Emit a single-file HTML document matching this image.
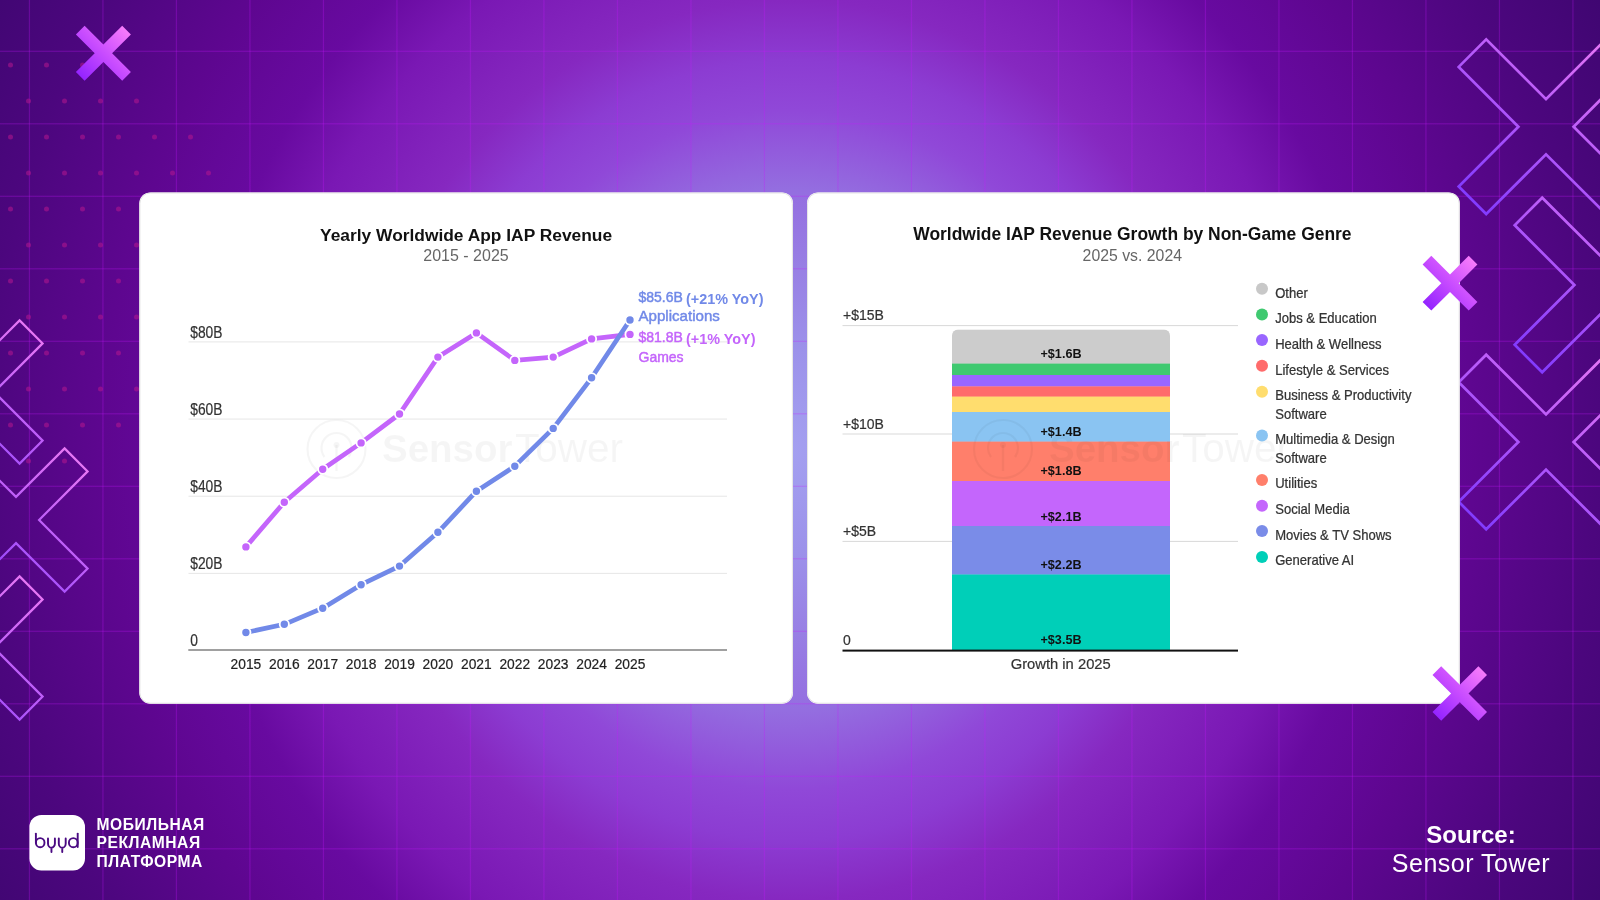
<!DOCTYPE html>
<html><head><meta charset="utf-8"><title>IAP Revenue</title>
<style>
html,body{margin:0;padding:0;width:1600px;height:900px;overflow:hidden;background:#3a0870;}
svg{display:block;font-family:"Liberation Sans", sans-serif;will-change:transform;}
</style></head><body>
<svg width="1600" height="900" viewBox="0 0 1600 900">
<defs>
<radialGradient id="bgg" gradientUnits="userSpaceOnUse" cx="790" cy="450" r="950" gradientTransform="translate(790 450) scale(1 1.0526) translate(-790 -450)">
<stop offset="0" stop-color="#a4a0f0"/>
<stop offset="0.1" stop-color="#9c92ea"/>
<stop offset="0.18" stop-color="#9880e4"/>
<stop offset="0.26" stop-color="#946ee0"/>
<stop offset="0.34" stop-color="#9048d8"/>
<stop offset="0.39" stop-color="#8c3cd2"/>
<stop offset="0.45" stop-color="#8628c0"/>
<stop offset="0.55" stop-color="#7a18b4"/>
<stop offset="0.62" stop-color="#680aa0"/>
<stop offset="0.72" stop-color="#5e0690"/>
<stop offset="0.85" stop-color="#4c067e"/>
<stop offset="1" stop-color="#3c066e"/>
</radialGradient>
<linearGradient id="gridc" x1="0" y1="0" x2="1" y2="0"><stop offset="0" stop-color="#c814ff" stop-opacity="0.26"/><stop offset="1" stop-color="#c814ff" stop-opacity="0.26"/></linearGradient>
<linearGradient id="xg" x1="0" y1="1" x2="1" y2="0"><stop offset="0" stop-color="#7a36ff"/><stop offset="1" stop-color="#f07cf4"/></linearGradient>
<linearGradient id="sx" x1="0" y1="1" x2="1" y2="0"><stop offset="0" stop-color="#8a1cff"/><stop offset="0.5" stop-color="#c84cff"/><stop offset="1" stop-color="#ff84fa"/></linearGradient>
<filter id="cs" x="-5%" y="-5%" width="110%" height="110%"><feDropShadow dx="0" dy="1" stdDeviation="1" flood-color="#000" flood-opacity="0.15"/></filter>
</defs>
<rect width="1600" height="900" fill="url(#bgg)"/>
<rect x="28.84" y="0" width="1.2" height="900" fill="url(#gridc)"/>
<rect x="102.34" y="0" width="1.2" height="900" fill="url(#gridc)"/>
<rect x="175.84" y="0" width="1.2" height="900" fill="url(#gridc)"/>
<rect x="249.34" y="0" width="1.2" height="900" fill="url(#gridc)"/>
<rect x="322.84" y="0" width="1.2" height="900" fill="url(#gridc)"/>
<rect x="396.34" y="0" width="1.2" height="900" fill="url(#gridc)"/>
<rect x="469.84" y="0" width="1.2" height="900" fill="url(#gridc)"/>
<rect x="543.34" y="0" width="1.2" height="900" fill="url(#gridc)"/>
<rect x="616.84" y="0" width="1.2" height="900" fill="url(#gridc)"/>
<rect x="690.34" y="0" width="1.2" height="900" fill="url(#gridc)"/>
<rect x="763.84" y="0" width="1.2" height="900" fill="url(#gridc)"/>
<rect x="837.34" y="0" width="1.2" height="900" fill="url(#gridc)"/>
<rect x="910.84" y="0" width="1.2" height="900" fill="url(#gridc)"/>
<rect x="984.34" y="0" width="1.2" height="900" fill="url(#gridc)"/>
<rect x="1057.84" y="0" width="1.2" height="900" fill="url(#gridc)"/>
<rect x="1131.34" y="0" width="1.2" height="900" fill="url(#gridc)"/>
<rect x="1204.84" y="0" width="1.2" height="900" fill="url(#gridc)"/>
<rect x="1278.34" y="0" width="1.2" height="900" fill="url(#gridc)"/>
<rect x="1351.84" y="0" width="1.2" height="900" fill="url(#gridc)"/>
<rect x="1425.34" y="0" width="1.2" height="900" fill="url(#gridc)"/>
<rect x="1498.84" y="0" width="1.2" height="900" fill="url(#gridc)"/>
<rect x="1572.34" y="0" width="1.2" height="900" fill="url(#gridc)"/>
<rect x="0" y="50.70" width="1600" height="1.2" fill="url(#gridc)"/>
<rect x="0" y="123.20" width="1600" height="1.2" fill="url(#gridc)"/>
<rect x="0" y="195.70" width="1600" height="1.2" fill="url(#gridc)"/>
<rect x="0" y="268.20" width="1600" height="1.2" fill="url(#gridc)"/>
<rect x="0" y="340.70" width="1600" height="1.2" fill="url(#gridc)"/>
<rect x="0" y="413.20" width="1600" height="1.2" fill="url(#gridc)"/>
<rect x="0" y="485.70" width="1600" height="1.2" fill="url(#gridc)"/>
<rect x="0" y="558.20" width="1600" height="1.2" fill="url(#gridc)"/>
<rect x="0" y="630.70" width="1600" height="1.2" fill="url(#gridc)"/>
<rect x="0" y="703.20" width="1600" height="1.2" fill="url(#gridc)"/>
<rect x="0" y="775.70" width="1600" height="1.2" fill="url(#gridc)"/>
<rect x="0" y="848.20" width="1600" height="1.2" fill="url(#gridc)"/>
<circle cx="10.5" cy="65" r="2.5" fill="#b4188e" fill-opacity="0.55"/>
<circle cx="46.5" cy="65" r="2.5" fill="#b4188e" fill-opacity="0.55"/>
<circle cx="82.5" cy="65" r="2.5" fill="#b4188e" fill-opacity="0.55"/>
<circle cx="28.5" cy="101" r="2.5" fill="#b4188e" fill-opacity="0.55"/>
<circle cx="64.5" cy="101" r="2.5" fill="#b4188e" fill-opacity="0.55"/>
<circle cx="100.5" cy="101" r="2.5" fill="#b4188e" fill-opacity="0.55"/>
<circle cx="136.5" cy="101" r="2.5" fill="#b4188e" fill-opacity="0.55"/>
<circle cx="10.5" cy="137" r="2.5" fill="#b4188e" fill-opacity="0.55"/>
<circle cx="46.5" cy="137" r="2.5" fill="#b4188e" fill-opacity="0.55"/>
<circle cx="82.5" cy="137" r="2.5" fill="#b4188e" fill-opacity="0.55"/>
<circle cx="118.5" cy="137" r="2.5" fill="#b4188e" fill-opacity="0.55"/>
<circle cx="154.5" cy="137" r="2.5" fill="#b4188e" fill-opacity="0.55"/>
<circle cx="190.5" cy="137" r="2.5" fill="#b4188e" fill-opacity="0.55"/>
<circle cx="28.5" cy="173" r="2.5" fill="#b4188e" fill-opacity="0.55"/>
<circle cx="64.5" cy="173" r="2.5" fill="#b4188e" fill-opacity="0.55"/>
<circle cx="100.5" cy="173" r="2.5" fill="#b4188e" fill-opacity="0.55"/>
<circle cx="136.5" cy="173" r="2.5" fill="#b4188e" fill-opacity="0.55"/>
<circle cx="172.5" cy="173" r="2.5" fill="#b4188e" fill-opacity="0.55"/>
<circle cx="208.5" cy="173" r="2.5" fill="#b4188e" fill-opacity="0.55"/>
<circle cx="10.5" cy="209" r="2.5" fill="#b4188e" fill-opacity="0.55"/>
<circle cx="46.5" cy="209" r="2.5" fill="#b4188e" fill-opacity="0.55"/>
<circle cx="82.5" cy="209" r="2.5" fill="#b4188e" fill-opacity="0.55"/>
<circle cx="118.5" cy="209" r="2.5" fill="#b4188e" fill-opacity="0.55"/>
<circle cx="28.5" cy="245" r="2.5" fill="#b4188e" fill-opacity="0.55"/>
<circle cx="64.5" cy="245" r="2.5" fill="#b4188e" fill-opacity="0.55"/>
<circle cx="100.5" cy="245" r="2.5" fill="#b4188e" fill-opacity="0.55"/>
<circle cx="136.5" cy="245" r="2.5" fill="#b4188e" fill-opacity="0.55"/>
<circle cx="10.5" cy="281" r="2.5" fill="#b4188e" fill-opacity="0.55"/>
<circle cx="46.5" cy="281" r="2.5" fill="#b4188e" fill-opacity="0.55"/>
<circle cx="82.5" cy="281" r="2.5" fill="#b4188e" fill-opacity="0.55"/>
<circle cx="118.5" cy="281" r="2.5" fill="#b4188e" fill-opacity="0.55"/>
<circle cx="28.5" cy="317" r="2.5" fill="#b4188e" fill-opacity="0.55"/>
<circle cx="64.5" cy="317" r="2.5" fill="#b4188e" fill-opacity="0.55"/>
<circle cx="100.5" cy="317" r="2.5" fill="#b4188e" fill-opacity="0.55"/>
<circle cx="136.5" cy="317" r="2.5" fill="#b4188e" fill-opacity="0.55"/>
<circle cx="10.5" cy="353" r="2.5" fill="#b4188e" fill-opacity="0.55"/>
<circle cx="46.5" cy="353" r="2.5" fill="#b4188e" fill-opacity="0.55"/>
<circle cx="82.5" cy="353" r="2.5" fill="#b4188e" fill-opacity="0.55"/>
<circle cx="118.5" cy="353" r="2.5" fill="#b4188e" fill-opacity="0.55"/>
<circle cx="28.5" cy="389" r="2.5" fill="#b4188e" fill-opacity="0.55"/>
<circle cx="64.5" cy="389" r="2.5" fill="#b4188e" fill-opacity="0.55"/>
<circle cx="100.5" cy="389" r="2.5" fill="#b4188e" fill-opacity="0.55"/>
<circle cx="136.5" cy="389" r="2.5" fill="#b4188e" fill-opacity="0.55"/>
<circle cx="10.5" cy="425" r="2.5" fill="#b4188e" fill-opacity="0.55"/>
<circle cx="46.5" cy="425" r="2.5" fill="#b4188e" fill-opacity="0.55"/>
<circle cx="82.5" cy="425" r="2.5" fill="#b4188e" fill-opacity="0.55"/>
<circle cx="118.5" cy="425" r="2.5" fill="#b4188e" fill-opacity="0.55"/>
<circle cx="28.5" cy="461" r="2.5" fill="#b4188e" fill-opacity="0.55"/>
<circle cx="64.5" cy="461" r="2.5" fill="#b4188e" fill-opacity="0.55"/>
<polygon points="1486.2,214.0 1546.0,154.3 1605.8,214.0 1633.3,186.5 1573.6,126.7 1633.3,66.9 1605.8,39.4 1546.0,99.1 1486.2,39.4 1458.7,66.9 1518.4,126.7 1458.7,186.5" fill="none" stroke="url(#xg)" stroke-width="2.7"/>
<polygon points="1542.2,372.3 1602.0,312.6 1661.8,372.3 1689.3,344.8 1629.6,285.0 1689.3,225.2 1661.8,197.7 1602.0,257.4 1542.2,197.7 1514.7,225.2 1574.4,285.0 1514.7,344.8" fill="none" stroke="url(#xg)" stroke-width="2.7"/>
<polygon points="1486.2,529.3 1546.0,469.6 1605.8,529.3 1633.3,501.8 1573.6,442.0 1633.3,382.2 1605.8,354.7 1546.0,414.4 1486.2,354.7 1458.7,382.2 1518.4,442.0 1458.7,501.8" fill="none" stroke="url(#xg)" stroke-width="2.7"/>
<polygon points="-77.6,463.6 -29.0,415.1 19.6,463.6 42.6,440.6 -5.9,392.0 42.6,343.4 19.6,320.4 -29.0,368.9 -77.6,320.4 -100.6,343.4 -52.1,392.0 -100.6,440.6" fill="none" stroke="url(#xg)" stroke-width="2.2"/>
<polygon points="-32.6,591.6 16.0,543.1 64.6,591.6 87.6,568.6 39.1,520.0 87.6,471.4 64.6,448.4 16.0,496.9 -32.6,448.4 -55.6,471.4 -7.1,520.0 -55.6,568.6" fill="none" stroke="url(#xg)" stroke-width="2.2"/>
<polygon points="-77.6,719.6 -29.0,671.1 19.6,719.6 42.6,696.6 -5.9,648.0 42.6,599.4 19.6,576.4 -29.0,624.9 -77.6,576.4 -100.6,599.4 -52.1,648.0 -100.6,696.6" fill="none" stroke="url(#xg)" stroke-width="2.2"/>
<rect x="139.3" y="192.4" width="653.7" height="511.4" rx="11" fill="#fff"/><rect x="139.9" y="193" width="652.5" height="510.2" rx="10.5" fill="none" stroke="#e4e4e4" stroke-width="1"/>
<rect x="807" y="192.4" width="652.8" height="511.4" rx="11" fill="#fff"/><rect x="807.6" y="193" width="651.6" height="510.2" rx="10.5" fill="none" stroke="#e4e4e4" stroke-width="1"/>
<g fill="#000" fill-opacity="0.038" stroke="#000" stroke-opacity="0.038"><circle cx="336.5" cy="449" r="29" fill="none" stroke-width="2.2"/><path d="M324.5,457 A15,15 0 1 1 348.5,457" fill="none" stroke-width="2.2"/><path d="M336.5,445 L336.5,471" fill="none" stroke-width="2.4"/><circle cx="336.5" cy="445" r="3" stroke="none"/><text x="382" y="462" font-size="38.5" font-weight="bold" stroke="none">Sensor</text><text x="515" y="462" font-size="40.5" stroke="none">Tower</text></g>
<text transform="translate(190.20 646.20) scale(0.8753 1)" font-size="15.8" fill="#333" stroke="#333" stroke-width="0.2">0</text>
<rect x="188.5" y="572.85" width="538.5" height="1" fill="#e6e6e6"/>
<text transform="translate(190.20 569.05) scale(0.8753 1)" font-size="15.8" fill="#333" stroke="#333" stroke-width="0.2">$20B</text>
<rect x="188.5" y="495.70" width="538.5" height="1" fill="#e6e6e6"/>
<text transform="translate(190.20 491.90) scale(0.8753 1)" font-size="15.8" fill="#333" stroke="#333" stroke-width="0.2">$40B</text>
<rect x="188.5" y="418.55" width="538.5" height="1" fill="#e6e6e6"/>
<text transform="translate(190.20 414.75) scale(0.8753 1)" font-size="15.8" fill="#333" stroke="#333" stroke-width="0.2">$60B</text>
<rect x="188.5" y="341.40" width="538.5" height="1" fill="#e6e6e6"/>
<text transform="translate(190.20 337.60) scale(0.8753 1)" font-size="15.8" fill="#333" stroke="#333" stroke-width="0.2">$80B</text>
<rect x="188.3" y="649" width="538.7" height="2" fill="#a0a0a0"/>
<text transform="translate(245.90 669.00) scale(0.9718 1)" font-size="14.2" fill="#222" text-anchor="middle" stroke="#222" stroke-width="0.2">2015</text>
<text transform="translate(284.31 669.00) scale(0.9718 1)" font-size="14.2" fill="#222" text-anchor="middle" stroke="#222" stroke-width="0.2">2016</text>
<text transform="translate(322.72 669.00) scale(0.9718 1)" font-size="14.2" fill="#222" text-anchor="middle" stroke="#222" stroke-width="0.2">2017</text>
<text transform="translate(361.13 669.00) scale(0.9718 1)" font-size="14.2" fill="#222" text-anchor="middle" stroke="#222" stroke-width="0.2">2018</text>
<text transform="translate(399.54 669.00) scale(0.9718 1)" font-size="14.2" fill="#222" text-anchor="middle" stroke="#222" stroke-width="0.2">2019</text>
<text transform="translate(437.95 669.00) scale(0.9718 1)" font-size="14.2" fill="#222" text-anchor="middle" stroke="#222" stroke-width="0.2">2020</text>
<text transform="translate(476.36 669.00) scale(0.9718 1)" font-size="14.2" fill="#222" text-anchor="middle" stroke="#222" stroke-width="0.2">2021</text>
<text transform="translate(514.77 669.00) scale(0.9718 1)" font-size="14.2" fill="#222" text-anchor="middle" stroke="#222" stroke-width="0.2">2022</text>
<text transform="translate(553.18 669.00) scale(0.9718 1)" font-size="14.2" fill="#222" text-anchor="middle" stroke="#222" stroke-width="0.2">2023</text>
<text transform="translate(591.59 669.00) scale(0.9718 1)" font-size="14.2" fill="#222" text-anchor="middle" stroke="#222" stroke-width="0.2">2024</text>
<text transform="translate(630.00 669.00) scale(0.9718 1)" font-size="14.2" fill="#222" text-anchor="middle" stroke="#222" stroke-width="0.2">2025</text>
<polyline points="245.9,546.9 284.3,502.2 322.7,469.2 361.1,442.9 399.5,414.0 437.9,357.1 476.4,332.9 514.8,360.4 553.2,357.1 591.6,338.9 630.0,334.4" fill="none" stroke="#c465fb" stroke-width="4.7" stroke-linejoin="round" stroke-linecap="round"/><circle cx="245.9" cy="546.9" r="4.6" fill="#c465fb" stroke="#fff" stroke-width="1.8"/><circle cx="284.3" cy="502.2" r="4.6" fill="#c465fb" stroke="#fff" stroke-width="1.8"/><circle cx="322.7" cy="469.2" r="4.6" fill="#c465fb" stroke="#fff" stroke-width="1.8"/><circle cx="361.1" cy="442.9" r="4.6" fill="#c465fb" stroke="#fff" stroke-width="1.8"/><circle cx="399.5" cy="414.0" r="4.6" fill="#c465fb" stroke="#fff" stroke-width="1.8"/><circle cx="437.9" cy="357.1" r="4.6" fill="#c465fb" stroke="#fff" stroke-width="1.8"/><circle cx="476.4" cy="332.9" r="4.6" fill="#c465fb" stroke="#fff" stroke-width="1.8"/><circle cx="514.8" cy="360.4" r="4.6" fill="#c465fb" stroke="#fff" stroke-width="1.8"/><circle cx="553.2" cy="357.1" r="4.6" fill="#c465fb" stroke="#fff" stroke-width="1.8"/><circle cx="591.6" cy="338.9" r="4.6" fill="#c465fb" stroke="#fff" stroke-width="1.8"/><circle cx="630.0" cy="334.4" r="4.6" fill="#c465fb" stroke="#fff" stroke-width="1.8"/>
<polyline points="245.9,632.5 284.3,624.3 322.7,608.2 361.1,584.7 399.5,566.1 437.9,532.3 476.4,491.2 514.8,466.2 553.2,428.4 591.6,377.8 630.0,320.0" fill="none" stroke="#7189e8" stroke-width="4.7" stroke-linejoin="round" stroke-linecap="round"/><circle cx="245.9" cy="632.5" r="4.6" fill="#7189e8" stroke="#fff" stroke-width="1.8"/><circle cx="284.3" cy="624.3" r="4.6" fill="#7189e8" stroke="#fff" stroke-width="1.8"/><circle cx="322.7" cy="608.2" r="4.6" fill="#7189e8" stroke="#fff" stroke-width="1.8"/><circle cx="361.1" cy="584.7" r="4.6" fill="#7189e8" stroke="#fff" stroke-width="1.8"/><circle cx="399.5" cy="566.1" r="4.6" fill="#7189e8" stroke="#fff" stroke-width="1.8"/><circle cx="437.9" cy="532.3" r="4.6" fill="#7189e8" stroke="#fff" stroke-width="1.8"/><circle cx="476.4" cy="491.2" r="4.6" fill="#7189e8" stroke="#fff" stroke-width="1.8"/><circle cx="514.8" cy="466.2" r="4.6" fill="#7189e8" stroke="#fff" stroke-width="1.8"/><circle cx="553.2" cy="428.4" r="4.6" fill="#7189e8" stroke="#fff" stroke-width="1.8"/><circle cx="591.6" cy="377.8" r="4.6" fill="#7189e8" stroke="#fff" stroke-width="1.8"/><circle cx="630.0" cy="320.0" r="4.6" fill="#7189e8" stroke="#fff" stroke-width="1.8"/>
<text x="638.5" y="301.8" font-size="14" fill="#7189e8" stroke="#7189e8" stroke-width="0.45">$85.6B</text>
<text x="686" y="304" font-size="14.4" font-weight="bold" fill="#7189e8">(+21% YoY)</text>
<text x="638.5" y="321" font-size="15.1" fill="#7189e8" stroke="#7189e8" stroke-width="0.45">Applications</text>
<text x="638.5" y="341.8" font-size="14" fill="#c465fb" stroke="#c465fb" stroke-width="0.45">$81.8B</text>
<text x="686" y="344.4" font-size="14.4" font-weight="bold" fill="#c465fb">(+1% YoY)</text>
<text x="638.5" y="362.2" font-size="14" fill="#c465fb" stroke="#c465fb" stroke-width="0.45">Games</text>
<text x="466.1" y="240.5" font-size="17.36" font-weight="bold" fill="#111" text-anchor="middle">Yearly Worldwide App IAP Revenue</text>
<text transform="translate(466.00 261.30) scale(0.9422 1)" font-size="17" fill="#666" text-anchor="middle">2015 - 2025</text>
<text transform="translate(843.00 645.40) scale(0.9596 1)" font-size="14.6" fill="#333" stroke="#333" stroke-width="0.2">0</text>
<rect x="842.5" y="540.90" width="395.5" height="1" fill="#d9d9d9"/>
<text transform="translate(843.00 536.20) scale(0.9596 1)" font-size="14.6" fill="#333" stroke="#333" stroke-width="0.2">+$5B</text>
<rect x="842.5" y="433.50" width="395.5" height="1" fill="#d9d9d9"/>
<text transform="translate(843.00 428.80) scale(0.9596 1)" font-size="14.6" fill="#333" stroke="#333" stroke-width="0.2">+$10B</text>
<rect x="842.5" y="325.10" width="395.5" height="1" fill="#d9d9d9"/>
<text transform="translate(843.00 320.40) scale(0.9596 1)" font-size="14.6" fill="#333" stroke="#333" stroke-width="0.2">+$15B</text>
<clipPath id="barclip"><rect x="952" y="329.4" width="218" height="330" rx="6" ry="6"/></clipPath>
<g clip-path="url(#barclip)">
<rect x="952" y="329.4" width="218" height="34.5" fill="#cccccc"/>
<rect x="952" y="363.6" width="218" height="11.7" fill="#3fc970"/>
<rect x="952" y="375" width="218" height="11.7" fill="#9966ff"/>
<rect x="952" y="386.4" width="218" height="10.5" fill="#ff6b6b"/>
<rect x="952" y="396.6" width="218" height="15.7" fill="#ffdd6e"/>
<rect x="952" y="412" width="218" height="29.9" fill="#8ac4f2"/>
<rect x="952" y="441.6" width="218" height="39.7" fill="#ff7f6b"/>
<rect x="952" y="481" width="218" height="45.3" fill="#c466fc"/>
<rect x="952" y="526" width="218" height="48.8" fill="#7a8ce8"/>
<rect x="952" y="574.5" width="218" height="76.4" fill="#00cfb8"/>
</g>
<g fill="#000" fill-opacity="0.038" stroke="#000" stroke-opacity="0.038"><circle cx="1003" cy="449" r="29" fill="none" stroke-width="2.2"/><path d="M991,457 A15,15 0 1 1 1015,457" fill="none" stroke-width="2.2"/><path d="M1003,445 L1003,471" fill="none" stroke-width="2.4"/><circle cx="1003" cy="445" r="3" stroke="none"/><text x="1049" y="462" font-size="38.5" font-weight="bold" stroke="none">Sensor</text><text x="1182" y="462" font-size="40.5" stroke="none">Tower</text></g>
<rect x="842.5" y="649.60" width="395.5" height="2" fill="#111"/>
<text x="1061" y="358.4" font-size="12.6" font-weight="bold" fill="#111" text-anchor="middle">+$1.6B</text>
<text x="1061" y="436" font-size="12.6" font-weight="bold" fill="#111" text-anchor="middle">+$1.4B</text>
<text x="1061" y="475" font-size="12.6" font-weight="bold" fill="#111" text-anchor="middle">+$1.8B</text>
<text x="1061" y="520.7" font-size="12.6" font-weight="bold" fill="#111" text-anchor="middle">+$2.1B</text>
<text x="1061" y="568.7" font-size="12.6" font-weight="bold" fill="#111" text-anchor="middle">+$2.2B</text>
<text x="1061" y="644" font-size="12.6" font-weight="bold" fill="#111" text-anchor="middle">+$3.5B</text>
<text transform="translate(1060.70 668.50) scale(0.9850 1)" font-size="15" fill="#333" text-anchor="middle" stroke="#333" stroke-width="0.2">Growth in 2025</text>
<text x="1132.4" y="239.5" font-size="17.45" font-weight="bold" fill="#111" text-anchor="middle">Worldwide IAP Revenue Growth by Non-Game Genre</text>
<text transform="translate(1132.30 260.50) scale(0.9316 1)" font-size="17" fill="#666" text-anchor="middle">2025 vs. 2024</text>
<circle cx="1262" cy="288.8" r="6" fill="#c8c8c8"/>
<text transform="translate(1275.20 297.50) scale(0.9325 1)" font-size="14" fill="#333" stroke="#333" stroke-width="0.25">Other</text>
<circle cx="1262" cy="314.5" r="6" fill="#3fc970"/>
<text transform="translate(1275.20 323.30) scale(0.9325 1)" font-size="14" fill="#333" stroke="#333" stroke-width="0.25">Jobs &amp; Education</text>
<circle cx="1262" cy="340" r="6" fill="#9966ff"/>
<text transform="translate(1275.20 349.00) scale(0.9325 1)" font-size="14" fill="#333" stroke="#333" stroke-width="0.25">Health &amp; Wellness</text>
<circle cx="1262" cy="365.8" r="6" fill="#ff6b6b"/>
<text transform="translate(1275.20 374.70) scale(0.9325 1)" font-size="14" fill="#333" stroke="#333" stroke-width="0.25">Lifestyle &amp; Services</text>
<circle cx="1262" cy="391.7" r="6" fill="#ffdd6e"/>
<text transform="translate(1275.20 400.30) scale(0.9325 1)" font-size="14" fill="#333" stroke="#333" stroke-width="0.25">Business &amp; Productivity</text>
<text transform="translate(1275.20 418.70) scale(0.9325 1)" font-size="14" fill="#333" stroke="#333" stroke-width="0.25">Software</text>
<circle cx="1262" cy="435.6" r="6" fill="#8ac4f2"/>
<text transform="translate(1275.20 444.00) scale(0.9325 1)" font-size="14" fill="#333" stroke="#333" stroke-width="0.25">Multimedia &amp; Design</text>
<text transform="translate(1275.20 462.70) scale(0.9325 1)" font-size="14" fill="#333" stroke="#333" stroke-width="0.25">Software</text>
<circle cx="1262" cy="480" r="6" fill="#ff7f6b"/>
<text transform="translate(1275.20 488.40) scale(0.9325 1)" font-size="14" fill="#333" stroke="#333" stroke-width="0.25">Utilities</text>
<circle cx="1262" cy="505.7" r="6" fill="#c466fc"/>
<text transform="translate(1275.20 513.90) scale(0.9325 1)" font-size="14" fill="#333" stroke="#333" stroke-width="0.25">Social Media</text>
<circle cx="1262" cy="531.1" r="6" fill="#7a8ce8"/>
<text transform="translate(1275.20 539.50) scale(0.9325 1)" font-size="14" fill="#333" stroke="#333" stroke-width="0.25">Movies &amp; TV Shows</text>
<circle cx="1262" cy="556.9" r="6" fill="#00cfb8"/>
<text transform="translate(1275.20 564.90) scale(0.9325 1)" font-size="14" fill="#333" stroke="#333" stroke-width="0.25">Generative AI</text>
<polygon points="84.6,80.8 103.4,62.0 122.2,80.8 130.9,72.1 112.1,53.3 130.9,34.5 122.2,25.8 103.4,44.6 84.6,25.8 75.9,34.5 94.7,53.3 75.9,72.1" fill="url(#sx)"/>
<polygon points="1431.3,310.6 1450.0,291.9 1468.7,310.6 1477.4,301.9 1458.7,283.2 1477.4,264.5 1468.7,255.8 1450.0,274.5 1431.3,255.8 1422.6,264.5 1441.3,283.2 1422.6,301.9" fill="url(#sx)"/>
<polygon points="1441.2,720.8 1459.8,702.2 1478.4,720.8 1487.0,712.1 1468.5,693.5 1487.0,674.9 1478.4,666.2 1459.8,684.8 1441.2,666.2 1432.5,674.9 1451.1,693.5 1432.5,712.1" fill="url(#sx)"/>
<rect x="29.4" y="815" width="55.6" height="55.6" rx="12" fill="#fff"/>
<g fill="none" stroke="#4a0a82" stroke-width="1.9" stroke-linecap="round">
<path d="M35.9,833.6 V843"/><ellipse cx="40.2" cy="842.7" rx="4.3" ry="4.6"/>
<path d="M48,838.4 V843.4 A3.45,4.3 0 0 0 54.9,843.4 V838.4 M51.45,847.7 V852"/>
<path d="M58.8,838.4 V843.4 A3.45,4.3 0 0 0 65.7,843.4 V838.4 M62.25,847.7 V852"/>
<ellipse cx="73.3" cy="842.7" rx="4.4" ry="4.6"/><path d="M77.7,833.6 V847"/>
</g>
<g font-size="15.6" font-weight="bold" fill="#fff" letter-spacing="0.55">
<text x="96.5" y="830">МОБИЛЬНАЯ</text>
<text x="96.5" y="848.3">РЕКЛАМНАЯ</text>
<text x="96.5" y="866.6">ПЛАТФОРМА</text>
</g>
<text x="1471" y="843.2" font-size="24" font-weight="bold" fill="#fff" text-anchor="middle">Source:</text>
<text x="1471" y="872.4" font-size="25" fill="#fff" text-anchor="middle" letter-spacing="0.5">Sensor Tower</text>
</svg>
</body></html>
